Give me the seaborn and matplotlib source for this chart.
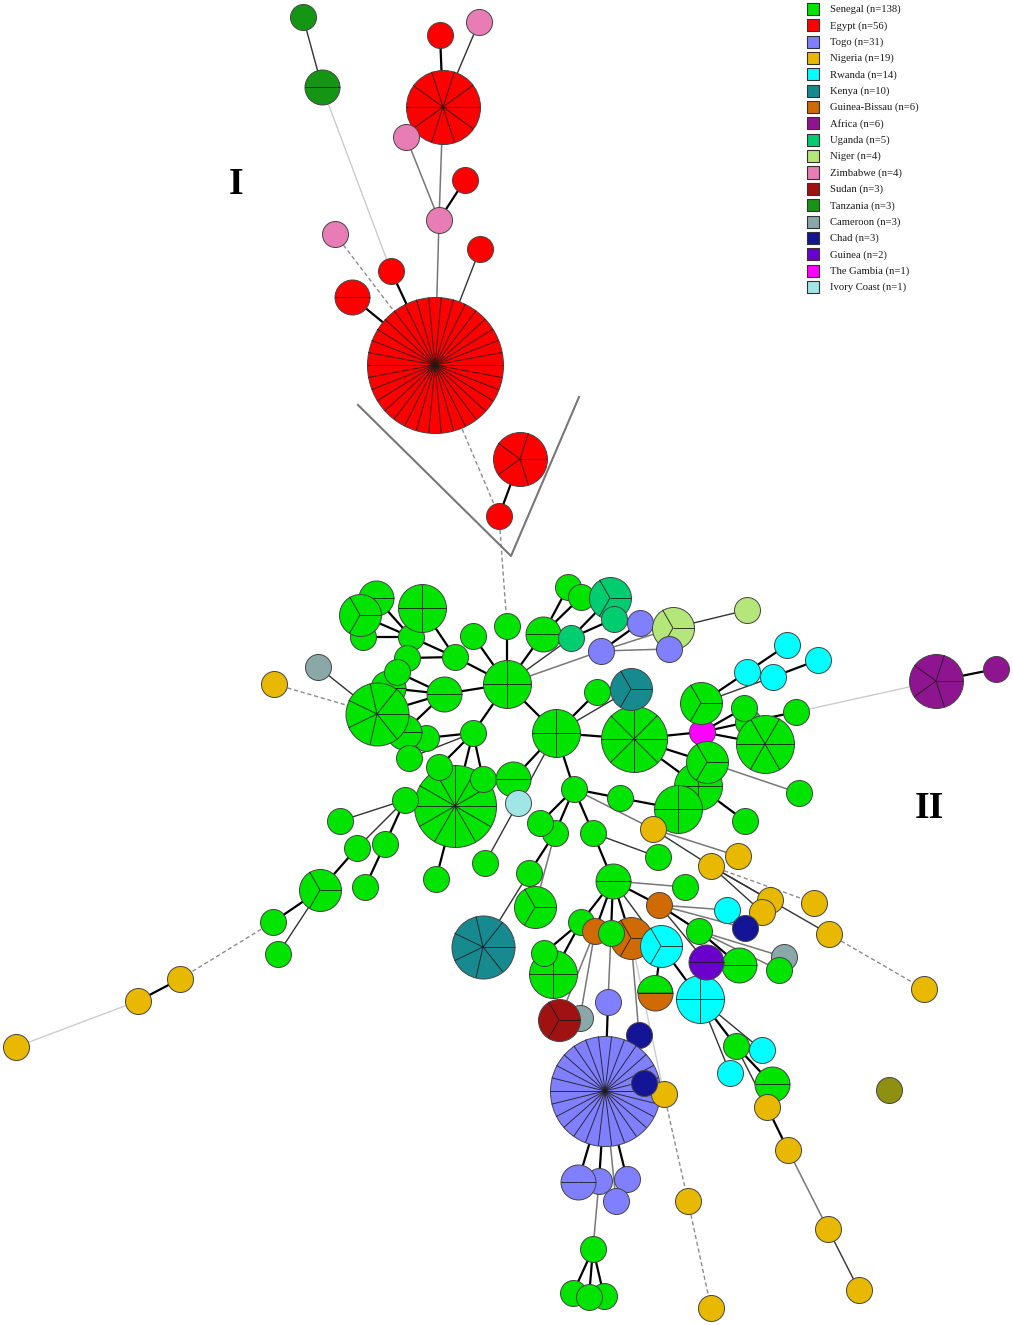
import numpy as np
import matplotlib
matplotlib.use('Agg')
import matplotlib.pyplot as plt
from matplotlib.patches import Wedge
import pandas as pd
import seaborn as sns

countries = ['Senegal', 'Egypt', 'Togo', 'Nigeria', 'Rwanda', 'Kenya', 'Guinea-Bissau', 'Africa', 'Uganda',
             'Niger', 'Zimbabwe', 'Sudan', 'Tanzania', 'Cameroon', 'Chad', 'Guinea', 'The Gambia', 'Ivory Coast']
country_n = [138, 56, 31, 19, 14, 10, 6, 6, 5, 4, 4, 3, 3, 3, 3, 2, 1, 1]
country_colors = ['#00e400', '#ff0000', '#8080ff', '#e8b900', '#00ffff', '#178a8f', '#cf6a05', '#8f1490', '#00cc70',
                  '#b5e67a', '#e87db5', '#a01212', '#149614', '#8aa8a8', '#141496', '#6a00cc', '#ff00ff', '#a0e6e6']

# network nodes, in drawing order (last one ends up on top)
node_id = ['ta1', 'ta2', 'e1', 'z1', 'e2', 'z2', 'e3', 'z3', 'z4', 'e4', 'e5', 'e6', 'e7', 'e8', 'e9',
           's1', 's2', 's3', 's4', 's5', 's6', 's7', 's8', 's9', 's10',
           's11', 's15', 's14', 's13', 's12', 's16', 's17', 's18', 'c1', 'n17',
           's19', 's20', 's21', 's22', 'i1', 's23', 's24', 's25', 's26', 's27',
           's28', 's29', 's30', 's31', 's32', 'n18', 'n19', 'n20',
           's33', 's34', 'u1', 'u2', 's35', 'u3', 't1', 'ni1', 'ni2', 't2', 't3',
           'r1', 'r2', 'r3', 'r4', 's36', 's37', 's38', 'k1', 's39', 's40', 's41', 's42',
           's43', 's44', 'ga', 's45', 's46', 's47', 's48', 's49', 's50', 's52', 's51', 's53',
           'n1', 's54', 'n2', 'n3', 'a1', 'a2',
           's55', 's56', 's57', 's58', 'g1', 's59', 'g2', 'g3', 's60', 'r5', 'r6', 's62', 's61', 'gu', 'h1',
           't4', 's63', 's64', 'k2', 'c2', 'su', 'ch1',
           'n4', 'n5', 'n6', 'n7', 'n8', 'r7', 'ch2', 'c3', 's65',
           'r8', 'r9', 's66', 's67', 'n9', 'n10', 'n11', 'n12', 't5', 'n14', 'ch3', 'n15', 'n16',
           't6', 't7', 't8', 't9', 's68', 's69', 's70', 's71', 'ol']
node_x = [303, 322, 440, 479, 443, 406, 465, 439, 335, 480, 391, 352, 435, 520, 499,
          363, 376, 360, 411, 422, 407, 455, 473, 507, 507,
          388, 426, 404, 377, 397, 409, 444, 473, 318, 274,
          455, 439, 483, 513, 518, 405, 340, 357, 385, 485,
          320, 273, 278, 365, 436, 180, 138, 16,
          568, 581, 610, 614, 543, 571, 640, 673, 747, 601, 669,
          787, 818, 747, 773, 597, 556, 634, 631, 748, 765, 744, 796,
          698, 678, 702, 701, 707, 799, 745, 574, 620, 555, 540, 593,
          653, 658, 738, 711, 936, 996,
          529, 535, 613, 685, 659, 581, 595, 631, 611, 661, 700, 739, 699, 706, 655,
          608, 553, 544, 483, 580, 559, 639,
          770, 762, 814, 829, 924, 727, 745, 784, 779,
          762, 730, 736, 772, 767, 788, 828, 859, 605, 664, 644, 688, 711,
          599, 578, 627, 616, 593, 573, 604, 589, 889]
node_y = [17, 87, 35, 22, 107, 137, 180, 220, 234, 249, 271, 297, 365, 459, 516,
          637, 598, 615, 637, 608, 658, 657, 636, 626, 684,
          688, 738, 732, 714, 672, 758, 694, 733, 667, 684,
          806, 767, 779, 779, 803, 800, 821, 848, 844, 863,
          890, 922, 954, 887, 879, 979, 1001, 1047,
          587, 597, 598, 619, 634, 638, 623, 628, 610, 651, 649,
          645, 660, 672, 677, 692, 733, 739, 689, 722, 744, 708, 712,
          786, 809, 732, 703, 762, 793, 821, 789, 798, 833, 823, 833,
          829, 857, 856, 866, 681, 669,
          873, 907, 881, 887, 905, 922, 931, 938, 933, 946, 999, 965, 931, 962, 993,
          1002, 974, 953, 947, 1018, 1020, 1035,
          900, 912, 903, 934, 989, 910, 928, 957, 970,
          1050, 1073, 1046, 1084, 1107, 1150, 1229, 1290, 1091, 1094, 1083, 1201, 1308,
          1181, 1182, 1179, 1201, 1249, 1293, 1296, 1297, 1090]
node_count = [1, 2, 1, 1, 10, 1, 1, 1, 1, 1, 1, 2, 34, 5, 1,
               1, 2, 3, 1, 4, 1, 1, 1, 1, 4,
               2, 1, 2, 7, 1, 1, 2, 1, 1, 1,
               12, 1, 1, 2, 1, 1, 1, 1, 1, 1,
               3, 1, 1, 1, 1, 1, 1, 1,
               1, 1, 3, 1, 2, 1, 1, 3, 1, 1, 1,
               1, 1, 1, 1, 1, 4, 8, 3, 1, 6, 1, 1,
               4, 4, 1, 3, 3, 1, 1, 1, 1, 1, 1, 1,
               1, 1, 1, 1, 5, 1,
               1, 3, 2, 1, 1, 1, 1, 3, 1, 3, 4, 2, 1, 2, 2,
               1, 4, 1, 7, 1, 3, 1,
               1, 1, 1, 1, 1, 1, 1, 1, 1,
               1, 1, 1, 2, 1, 1, 1, 1, 26, 1, 1, 1, 1,
               1, 2, 1, 1, 1, 1, 1, 1, 1]

# links between nodes, one list per line style
thick_edges = [('e1', 'e2'), ('e3', 'z3'), ('e5', 'e7'), ('e6', 'e7'), ('e8', 'e9'),
               ('s9', 's10'), ('s10', 's8'), ('s10', 's7'), ('s10', 's17'), ('s10', 's35'), ('s10', 's37'),
               ('s10', 's18'), ('s35', 's33'), ('s35', 's34'), ('u3', 'u1'), ('u3', 'u2'), ('t2', 't1'),
               ('s7', 's4'), ('s7', 's6'), ('s7', 's5'), ('s4', 's2'), ('s4', 's3'), ('s4', 's1'),
               ('s17', 's12'), ('s17', 's11'), ('s17', 's13'), ('s17', 's14'),
               ('s18', 's15'), ('s18', 's20'), ('s18', 's19'), ('s18', 's21'),
               ('s19', 's23'), ('s23', 's26'), ('s26', 's31'), ('s25', 's28'), ('s28', 's29'),
               ('s19', 's32'), ('n18', 'n19'),
               ('s37', 's22'), ('s37', 's38'), ('s37', 's36'), ('s37', 's49'),
               ('s38', 'ga'), ('s38', 's46'), ('s38', 's43'), ('ga', 's45'), ('ga', 's41'), ('ga', 's39'),
               ('ga', 's40'), ('s45', 'r3'), ('r3', 'r1'), ('r4', 'r2'), ('s42', 's39'), ('a1', 'a2'),
               ('s43', 's48'), ('s50', 's44'), ('s49', 's50'), ('s49', 's51'), ('s49', 's52'), ('s49', 's53'),
               ('s53', 's57'), ('s52', 's55'), ('s57', 'g1'), ('s57', 's59'), ('s57', 'g2'), ('s57', 's60'),
               ('s57', 'g3'), ('g1', 's61'), ('s61', 's62'), ('r5', 'r6'), ('r5', 'h1'),
               ('s59', 's64'), ('s59', 's63'), ('t4', 't5'), ('t5', 't7'), ('t5', 't6'), ('t5', 't8'),
               ('s68', 's69'), ('s68', 's70'), ('s68', 's71'), ('r6', 's66'), ('s66', 's67'), ('n9', 'n10')]
thin_edges = [('ta1', 'ta2'), ('z1', 'e2'), ('e4', 'e7'), ('s10', 'u3'), ('ni1', 'ni2'),
              ('s18', 's16'), ('c1', 's13'), ('s23', 's24'), ('s23', 's25'), ('s28', 's30'),
              ('i1', 's27'), ('s37', 'k1'), ('s37', 'i1'), ('s45', 'r4'), ('n1', 'n3'), ('s53', 's54'),
              ('s55', 'k2'), ('n3', 'n7'), ('n3', 'n5'), ('n3', 'n4'), ('s57', 'r5'), ('g1', 'gu'),
              ('r6', 'r9'), ('r6', 'r8'), ('s66', 'n9'), ('n11', 'n12')]
mid_edges = [('e2', 'z3'), ('z2', 'z3'), ('z3', 'e7'), ('s10', 't2'), ('t2', 'ni1'), ('t2', 't3'),
             ('s46', 's47'), ('s49', 'n1'), ('n1', 'n2'), ('s52', 's56'), ('s57', 's58'), ('g1', 'r7'),
             ('g1', 'ch2'), ('s61', 'c3'), ('s61', 's65'), ('g2', 'su'), ('g2', 'c2'), ('s60', 't4'),
             ('g3', 'ch1'), ('t5', 't9'), ('t6', 's68'), ('n10', 'n11')]
light_edges = [('ta2', 'e5'), ('n19', 'n20'), ('s42', 'a1'), ('g3', 'n14')]
dashed_edges = [('z4', 'e7'), ('e7', 'e9'), ('e9', 's9'), ('n17', 's13'), ('s29', 'n18'), ('n3', 'n6'),
                ('n7', 'n8'), ('n14', 'n15'), ('n15', 'n16')]

# the V that separates the two clusters
divider_x = [358, 511, 579]
divider_y = [405, 556, 397]
cluster_labels = ['I', 'II']
cluster_label_x = [236, 929]
cluster_label_y = [184, 808]

radius = {1: 13, 2: 17.5, 3: 21, 4: 24, 5: 27, 6: 29, 7: 31.5, 8: 33, 10: 37, 12: 41, 26: 55, 34: 68}
code_names = {'ta': 'Tanzania', 'e': 'Egypt', 'z': 'Zimbabwe', 's': 'Senegal', 'c': 'Cameroon', 'n': 'Nigeria',
              'i': 'Ivory Coast', 'u': 'Uganda', 't': 'Togo', 'ni': 'Niger', 'r': 'Rwanda', 'k': 'Kenya',
              'ga': 'The Gambia', 'a': 'Africa', 'g': 'Guinea-Bissau', 'gu': 'Guinea', 'h': 'Guinea-Bissau',
              'su': 'Sudan', 'ch': 'Chad', 'ol': 'Other'}
palette = dict(zip(countries, country_colors))
palette['Other'] = '#8f8f10'

df = pd.DataFrame({'id': node_id, 'x': node_x, 'y': node_y, 'count': node_count})
df['country'] = df['id'].str.rstrip('0123456789').map(code_names)
pos = df.set_index('id')[['x', 'y']]

fig = plt.figure(figsize=(10.13, 13.25), dpi=100)
ax = fig.add_axes([0, 0, 1, 1])


def draw_edges(edges, **style):
    for a, b in edges:
        ax.plot([pos.x[a], pos.x[b]], [pos.y[a], pos.y[b]], zorder=1, **style)


draw_edges(thick_edges, color='black', lw=1.6, solid_capstyle='butt')
draw_edges(thin_edges, color='#333333', lw=1.0)
draw_edges(mid_edges, color='#777777', lw=1.1)
draw_edges(light_edges, color='#cccccc', lw=1.0)
draw_edges(dashed_edges, color='#8c8c8c', lw=1.0, dashes=(3, 2))

ax.plot(divider_x, divider_y, color='#777777', lw=1.5, zorder=1)

# one scatterplot per node, overlapping nodes have to stack in order
for i, row in df.iterrows():
    r = radius[row['count']]
    z = 2 + i
    sns.scatterplot(data=df.iloc[[i]], x='x', y='y', color=palette[row['country']], s=(2 * r * 0.72) ** 2,
                    edgecolor='#444444', linewidth=0.7, legend=False, zorder=z, ax=ax)
    if row['id'] == 'h1':
        ax.add_patch(Wedge((row['x'], row['y']), r, 180, 360, facecolor=palette['Senegal'],
                           edgecolor='#444444', linewidth=0.7, zorder=z + 0.2))
    if row['count'] > 1:
        for ang in np.arange(row['count']) * 2 * np.pi / row['count']:
            ax.plot([row['x'], row['x'] + r * np.cos(ang)], [row['y'], row['y'] - r * np.sin(ang)],
                    color='#1a1a1a', lw=0.7, alpha=0.85, zorder=z + 0.5, solid_capstyle='butt')

# legend, drawn by hand like the original
legend = pd.DataFrame({'country': countries, 'n': country_n})
legend['x'] = 813
legend['y'] = 9 + legend.index * 16.35
sns.scatterplot(data=legend, x='x', y='y', hue='country', palette=palette, marker='s', s=75,
                edgecolor='#333333', linewidth=0.8, legend=False, zorder=500, ax=ax)
for row in legend.itertuples():
    ax.text(830, row.y + 0.5, f'{row.country} (n={row.n})', family='Liberation Serif', fontsize=7.7,
            va='center', ha='left', color='#1a1a1a')

for label, x, y in zip(cluster_labels, cluster_label_x, cluster_label_y):
    ax.text(x, y, label, family='Liberation Serif', fontweight='bold', fontsize=27, va='center', ha='center',
            color='black')

ax.set_xlim(0, 1013)
ax.set_ylim(1325, 0)
ax.axis('off')

fig.savefig('out.png', dpi=100, facecolor='white')
